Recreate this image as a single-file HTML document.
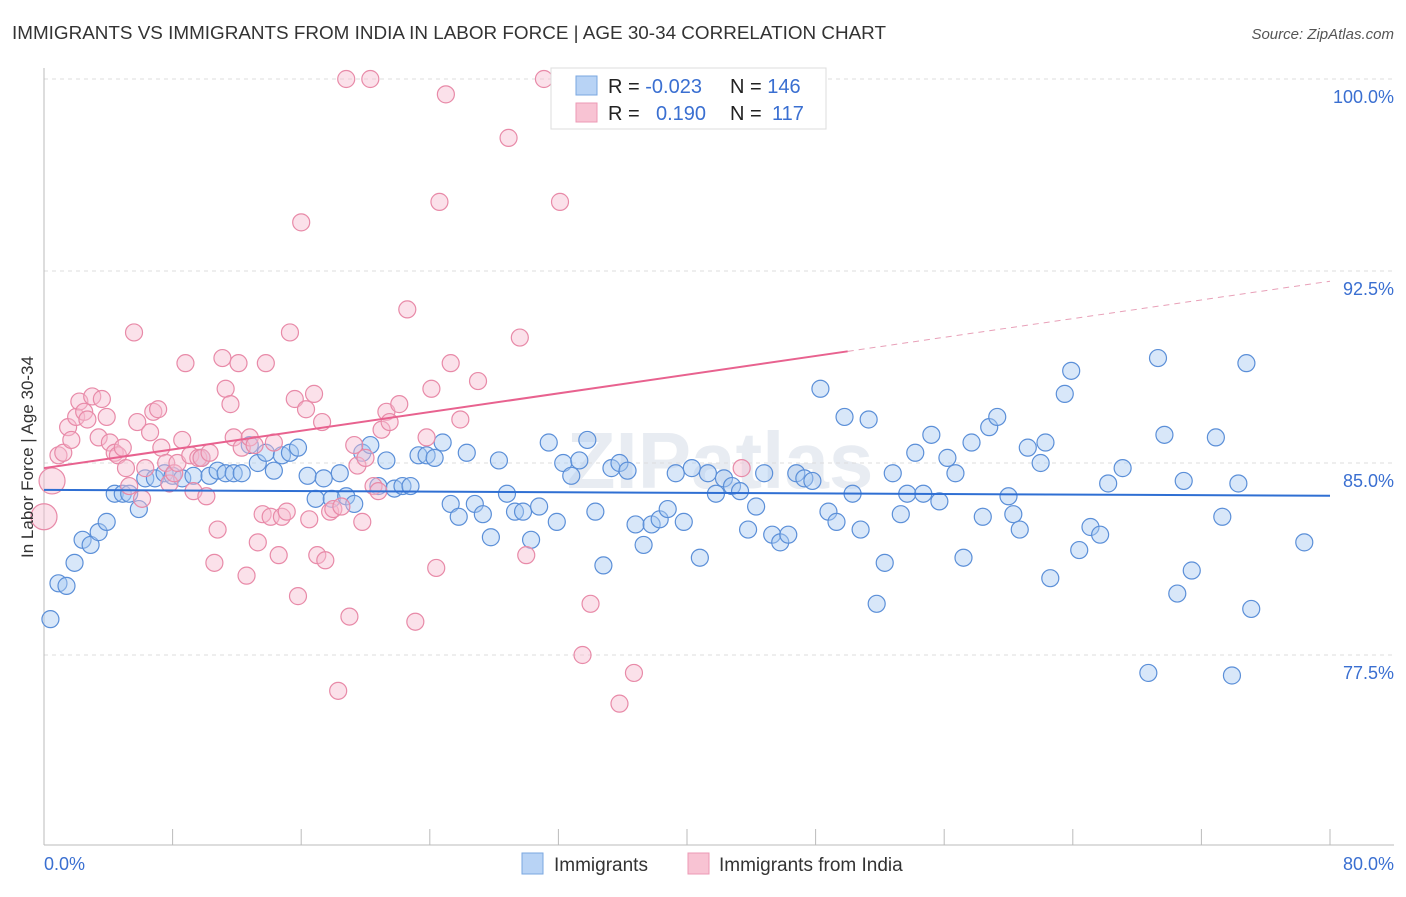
<!DOCTYPE html>
<html><head><meta charset="utf-8"><style>
body{margin:0;background:#fff;font-family:"Liberation Sans",sans-serif}
</style></head><body>
<svg id="chart" width="1406" height="892" xmlns="http://www.w3.org/2000/svg" font-family="Liberation Sans, sans-serif">
<text x="12" y="39" font-size="18" fill="#333" textLength="874" lengthAdjust="spacingAndGlyphs">IMMIGRANTS VS IMMIGRANTS FROM INDIA IN LABOR FORCE | AGE 30-34 CORRELATION CHART</text>
<text x="1394" y="39" font-size="15" fill="#555" text-anchor="end" font-style="italic">Source: ZipAtlas.com</text>
<text x="720" y="488" font-size="80" fill="#e8ecf2" text-anchor="middle" font-weight="bold">ZIPatlas</text>
<g id="grid"></g>
<g id="axes"></g>
<g id="blue"></g>
<g id="pink"></g>
<g id="trends"></g>
<g>
<rect x="551" y="68" width="275" height="61" fill="#fff" stroke="#ddd"/>
<rect x="576" y="76" width="21" height="19" fill="#b8d3f5" stroke="#7aa7e0"/>
<rect x="576" y="103" width="21" height="19" fill="#f8c3d3" stroke="#ec9ab5"/>
<text x="608" y="93" font-size="20" fill="#222">R = <tspan fill="#3a6fd1">-0.023</tspan></text>
<text x="730" y="93" font-size="20" fill="#222">N = <tspan fill="#3a6fd1">146</tspan></text>
<text x="608" y="120" font-size="20" fill="#222">R = <tspan fill="#3a6fd1" x="656">0.190</tspan></text>
<text x="730" y="120" font-size="20" fill="#222">N = <tspan fill="#3a6fd1" x="772">117</tspan></text>
</g>
<g>
<rect x="522" y="853" width="21" height="21" fill="#b8d3f5" stroke="#7aa7e0"/>
<text x="554" y="871" font-size="19" fill="#333">Immigrants</text>
<rect x="688" y="853" width="21" height="21" fill="#f8c3d3" stroke="#ec9ab5"/>
<text x="719" y="871" font-size="19" fill="#333">Immigrants from India</text>
</g>
<text transform="translate(33,457) rotate(-90)" font-size="17" fill="#333" text-anchor="middle">In Labor Force | Age 30-34</text>
<text x="44" y="870" font-size="18" fill="#3a6fd1">0.0%</text>
<text x="1394" y="870" font-size="18" fill="#3a6fd1" text-anchor="end">80.0%</text>
</svg>
<script>
const yTicks=[100,92.5,85,77.5];
const yTickLabels=["100.0%","92.5%","85.0%","77.5%"];
const xTicks=[0,8,16,24,32,40,48,56,64,72,80];
const blueX=[0.4,0.9,1.4,1.9,2.4,2.9,3.4,3.9,4.4,4.9,5.3,5.9,6.3,6.9,7.5,8.0,8.6,9.3,9.8,10.3,10.8,11.3,11.8,12.3,12.8,13.3,13.8,14.3,14.8,15.3,15.8,16.4,16.9,17.4,17.9,18.4,18.8,19.3,19.8,20.3,20.8,21.3,21.8,22.3,22.8,23.3,23.8,24.3,24.8,25.3,25.8,26.3,26.8,27.3,27.8,28.3,28.8,29.3,29.8,30.3,30.8,31.4,31.9,32.3,32.8,33.3,33.8,34.3,34.8,35.3,35.8,36.3,36.8,37.3,37.8,38.3,38.8,39.3,39.8,40.3,40.8,41.3,41.8,42.3,42.8,43.3,43.8,44.3,44.8,45.3,45.8,46.3,46.8,47.3,47.8,48.3,48.8,49.3,49.8,50.3,50.8,51.3,51.8,52.3,52.8,53.3,53.7,54.2,54.7,55.2,55.7,56.2,56.7,57.2,57.7,58.4,58.8,59.3,60.0,60.3,60.7,61.2,62.0,62.3,62.6,63.5,63.9,64.4,65.1,65.7,66.2,67.1,68.7,69.3,69.7,70.5,70.9,71.4,72.9,73.3,74.3,74.8,75.1,73.9,78.4];
const blueY=[78.9,80.3,80.2,81.1,82.0,81.8,82.3,82.7,83.8,83.8,83.8,83.2,84.4,84.4,84.6,84.5,84.4,84.5,85.2,84.5,84.7,84.6,84.6,84.6,85.7,85.0,85.4,84.7,85.3,85.4,85.6,84.5,83.6,84.4,83.6,84.6,83.7,83.4,85.4,85.7,84.1,85.1,84.0,84.1,84.1,85.3,85.3,85.2,85.8,83.4,82.9,85.4,83.4,83.0,82.1,85.1,83.8,83.1,83.1,82.0,83.3,85.8,82.7,85.0,84.5,85.1,85.9,83.1,81.0,84.8,85.0,84.7,82.6,81.8,82.6,82.8,83.2,84.6,82.7,84.8,81.3,84.6,83.8,84.4,84.1,83.9,82.4,83.3,84.6,82.2,81.9,82.2,84.6,84.4,84.3,87.9,83.1,82.7,86.8,83.8,82.4,86.7,79.5,81.1,84.6,83.0,83.8,85.4,83.8,86.1,83.5,85.2,84.6,81.3,85.8,82.9,86.4,86.8,83.7,83.0,82.4,85.6,85.0,85.8,80.5,87.7,88.6,81.6,82.5,82.2,84.2,84.8,76.8,89.1,86.1,79.9,84.3,80.8,86.0,82.9,84.2,88.9,79.3,76.7,81.9];
const pinkX=[0,0.5,0.9,1.2,1.5,1.7,2.0,2.2,2.5,2.7,3.0,3.4,3.6,3.9,4.1,4.4,4.6,4.9,5.1,5.3,5.6,5.8,6.1,6.3,6.6,6.8,7.1,7.3,7.6,7.8,8.1,8.3,8.6,8.8,9.1,9.3,9.6,9.8,10.1,10.3,10.6,10.8,11.1,11.3,11.6,11.8,12.1,12.3,12.6,12.8,13.1,13.3,13.6,13.8,14.1,14.3,14.6,14.8,15.1,15.3,15.6,15.8,16.0,16.3,16.5,16.8,17.0,17.3,17.5,17.8,18.0,18.3,18.5,18.8,19.0,19.3,19.5,19.8,20.0,20.3,20.5,20.8,21.0,21.3,21.5,22.1,22.6,23.1,23.8,24.1,24.4,24.6,25.0,25.3,25.9,27.0,28.9,29.6,30.0,31.1,32.1,33.5,34.0,35.8,36.7,36.3,43.4];
const pinkY=[82.9,84.3,85.3,85.4,86.4,85.9,86.8,87.4,87.0,86.7,87.6,86.0,87.5,86.8,85.8,85.4,85.3,85.6,84.8,84.1,90.1,86.6,83.6,84.8,86.2,87.0,87.1,85.6,85.0,84.2,84.6,85.0,85.9,88.9,85.3,83.9,85.2,85.2,83.7,85.4,81.1,82.4,89.1,87.9,87.3,86.0,88.9,85.6,80.6,86.0,85.7,81.9,83.0,88.9,82.9,85.8,81.4,82.9,83.1,90.1,87.5,79.8,94.4,87.1,82.8,87.7,81.4,86.6,81.2,83.1,83.2,76.1,83.3,100,79.0,85.7,84.9,82.7,85.2,100,84.1,83.9,86.3,87.0,86.6,87.3,91.0,78.8,86.0,87.9,80.9,95.2,99.4,88.9,86.7,88.2,97.7,89.9,81.4,100,95.2,77.5,79.5,75.6,76.8,99.9,84.8];
const blueTrend=[83.95,83.72];
const pinkTrend=[84.8,92.1];
const pinkSolidEnd=50;
const NS='http://www.w3.org/2000/svg';
const X=v=>44+v/80*1286;
const Y=v=>79+(100-v)/7.5*192;
function mk(tag,attrs,parent){const e=document.createElementNS(NS,tag);for(const k in attrs)e.setAttribute(k,attrs[k]);parent.appendChild(e);return e;}
const grid=document.getElementById('grid'),axes=document.getElementById('axes');
yTicks.forEach((t,i)=>{
 const l=mk('line',{x1:44,x2:1394,y1:Y(t),y2:Y(t),stroke:'#ddd','stroke-dasharray':'4,4'},grid);
 
 
 const tx=mk('text',{x:1394,y:Y(t)+24,'font-size':18,fill:'#3a6fd1','text-anchor':'end'},axes);
 tx.textContent=yTickLabels[i];
 
 
});
const la=mk('line',{x1:44,x2:44,y1:68,y2:845,stroke:'#bbb'},axes);


const lb=mk('line',{x1:44,x2:1394,y1:845,y2:845,stroke:'#bbb'},axes);


xTicks.forEach(t=>{
 const l=mk('line',{x1:X(t),x2:X(t),y1:829,y2:845,stroke:'#bbb'},axes);
 
 
});
function dots(xs,ys,g,fill,stroke,name){
 xs.forEach((x,i)=>{
  const c=mk('circle',{cx:X(x),cy:Y(ys[i]),r:(x<0.6&&name==='india-point'?13:8.5),fill:fill,'fill-opacity':0.45,stroke:stroke,'stroke-width':1.2},g);
  
  
 });
}
dots(blueX,blueY,document.getElementById('blue'),'#a9c9f2','#5b8fd8','immigrants-point');
dots(pinkX,pinkY,document.getElementById('pink'),'#f7bcd0','#e88aa8','india-point');
const tg=document.getElementById('trends');
const bt=mk('line',{x1:X(0),x2:X(80),y1:Y(blueTrend[0]),y2:Y(blueTrend[1]),stroke:'#2f6fd3','stroke-width':2},tg);


const pAt=x=>pinkTrend[0]+(pinkTrend[1]-pinkTrend[0])*x/80;
const ps=mk('line',{x1:X(0),x2:X(pinkSolidEnd),y1:Y(pAt(0)),y2:Y(pAt(pinkSolidEnd)),stroke:'#e8628f','stroke-width':2},tg);


const pd=mk('line',{x1:X(pinkSolidEnd),x2:X(80),y1:Y(pAt(pinkSolidEnd)),y2:Y(pAt(80)),stroke:'#e8a0b8','stroke-width':1,'stroke-dasharray':'6,5'},tg);


</script>
</body></html>
